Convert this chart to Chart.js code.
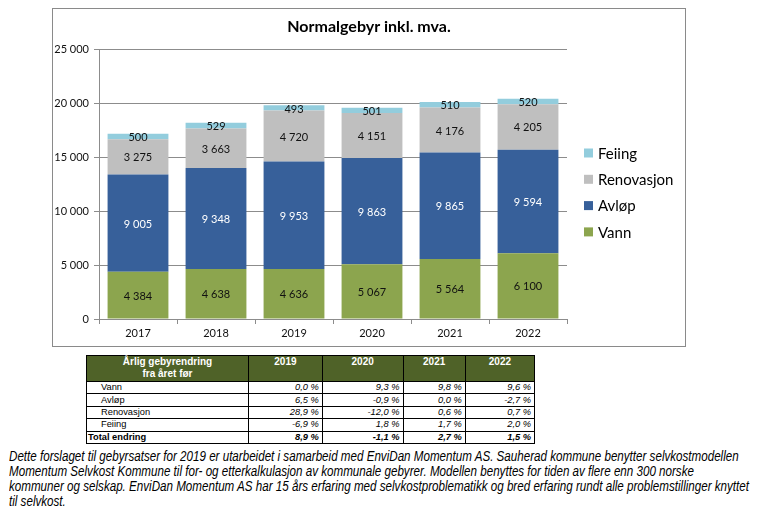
<!DOCTYPE html>
<html lang="no">
<head>
<meta charset="UTF-8">
<title>Normalgebyr inkl. mva.</title>
<script src="https://cdn.jsdelivr.net/npm/chart.js"></script>
<style>
  html, body { margin: 0; padding: 0; background: #fff; }
  body { width: 764px; height: 525px; position: relative; overflow: hidden; }
  #frame {
    position: absolute; left: 52px; top: 8px; width: 634px; height: 339px;
    border: 1px solid #8a8a8a; box-sizing: border-box;
  }
  #frame canvas { display: block; }
  #changes {
    position: absolute; left: 86px; top: 355px; width: 449px;
    border-collapse: collapse; font-family: "Liberation Sans", Arial, sans-serif;
    font-size: 9.3px; color: #000;
  }
  #changes th, #changes td { border: 1px solid #000; padding: 0; }
  #changes th {
    background: #4f6228; color: #fff; font-size: 10px; font-weight: bold;
    text-align: center; vertical-align: top; height: 25px; line-height: 12px;
  }
  #changes td { height: 11.4px; line-height: 11px; }
  #changes td.lbl { padding-left: 14px; width: 147px; }
  #changes td.val { text-align: right; font-style: italic; padding-right: 3px; }
  #changes tr.total td { font-weight: bold; }
  #changes tr.total td.lbl { padding-left: 1px; }
  #note {
    position: absolute; left: 9px; top: 449px; margin: 0;
    display: inline-block; transform-origin: 0 0;
    font-family: "Liberation Sans", Arial, sans-serif;
    font-style: italic; font-size: 14px; line-height: 15px; color: #000;
    white-space: nowrap;
  }
  #note span { display: block; }
</style>
</head>
<body>
<div id="frame"><canvas id="gebyr" width="632" height="337"></canvas></div>
<table id="changes"></table>
<div id="note"><span>Dette forslaget til gebyrsatser for 2019 er utarbeidet i samarbeid med EnviDan Momentum AS. Sauherad kommune benytter selvkostmodellen</span><span>Momentum Selvkost Kommune til for- og etterkalkulasjon av kommunale gebyrer. Modellen benyttes for tiden av flere enn 300 norske</span><span>kommuner og selskap. EnviDan Momentum AS har 15 års erfaring med selvkostproblematikk og bred erfaring rundt alle problemstillinger knyttet</span><span>til selvkost.</span></div>
<script>
// chart data (kr per year)
const years = ['2017', '2018', '2019', '2020', '2021', '2022'];
const vann = [4384, 4638, 4636, 5067, 5564, 6100];
const avlop = [9005, 9348, 9953, 9863, 9865, 9594];
const renovasjon = [3275, 3663, 4720, 4151, 4176, 4205];
const feiing = [500, 529, 493, 501, 510, 520];

// table data
const tableYears = ['2019', '2020', '2021', '2022'];
const tableRows = ['Vann', 'Avløp', 'Renovasjon', 'Feiing'];
const changeVann = ['0,0 %', '9,3 %', '9,8 %', '9,6 %'];
const changeAvlop = ['6,5 %', '-0,9 %', '0,0 %', '-2,7 %'];
const changeRenovasjon = ['28,9 %', '-12,0 %', '0,6 %', '0,7 %'];
const changeFeiing = ['-6,9 %', '1,8 %', '1,7 %', '2,0 %'];
const changeTotal = ['8,9 %', '-1,1 %', '2,7 %', '1,5 %'];

function fmt(v) {
    return String(v).replace(/\B(?=(\d{3})+(?!\d))/g, ' ');
}

// build the table
const table = document.getElementById('changes');
let html = '<tr><th>Årlig gebyrendring<br>fra året før</th>';
tableYears.forEach(y => { html += '<th>' + y + '</th>'; });
html += '</tr>';
[changeVann, changeAvlop, changeRenovasjon, changeFeiing].forEach((row, i) => {
    html += '<tr><td class="lbl">' + tableRows[i] + '</td>';
    row.forEach(v => { html += '<td class="val">' + v + '</td>'; });
    html += '</tr>';
});
html += '<tr class="total"><td class="lbl">Total endring</td>';
changeTotal.forEach(v => { html += '<td class="val">' + v + '</td>'; });
html += '</tr>';
table.innerHTML = html;

// narrow the note text (no Arial Narrow here) so the longest line fits
function squeezeNote() {
    const note = document.getElementById('note');
    note.style.transform = 'none';
    const w = note.offsetWidth;
    if (w > 0) note.style.transform = 'scaleX(' + (740 / w) + ')';
}
squeezeNote();
if (document.fonts) document.fonts.ready.then(squeezeNote);

// values inside the bar segments
const segmentLabels = {
    id: 'segmentLabels',
    afterDatasetsDraw(chart) {
        const ctx = chart.ctx;
        ctx.save();
        ctx.font = '11px Lato';
        ctx.textAlign = 'center';
        ctx.textBaseline = 'middle';
        chart.data.datasets.forEach((ds, i) => {
            const meta = chart.getDatasetMeta(i);
            ctx.fillStyle = ds.labelColor;
            meta.data.forEach((bar, j) => {
                const p = bar.getCenterPoint();
                ctx.fillText(fmt(ds.data[j]), p.x, p.y + 1);
            });
        });
        ctx.restore();
    }
};

// legend on the right, top item = top segment
const sideLegend = {
    id: 'sideLegend',
    afterDraw(chart) {
        const ctx = chart.ctx;
        const x = chart.chartArea.right + 17;
        ctx.save();
        ctx.font = '15px Lato';
        ctx.textBaseline = 'middle';
        ctx.textAlign = 'left';
        const list = chart.data.datasets.slice().reverse();
        list.forEach((ds, i) => {
            const y = 144 + i * 26.3;
            ctx.fillStyle = ds.backgroundColor;
            ctx.fillRect(x, y - 4.5, 9, 9);
            ctx.fillStyle = '#000';
            ctx.fillText(ds.label, x + 14, y + 1);
        });
        ctx.restore();
    }
};

const axisColor = '#8c8c8c';

new Chart(document.getElementById('gebyr'), {
    type: 'bar',
    data: {
        labels: years,
        datasets: [
            { label: 'Vann', data: vann, backgroundColor: '#8ca54e', labelColor: '#111' },
            { label: 'Avløp', data: avlop, backgroundColor: '#37609a', labelColor: '#fff' },
            { label: 'Renovasjon', data: renovasjon, backgroundColor: '#bfbfbf', labelColor: '#111' },
            { label: 'Feiing', data: feiing, backgroundColor: '#93cddd', labelColor: '#111' }
        ]
    },
    options: {
        responsive: false,
        animation: false,
        events: [],
        categoryPercentage: 1,
        barPercentage: 0.78,
        layout: { padding: 0 },
        scales: {
            x: {
                stacked: true,
                grid: { drawOnChartArea: false, drawTicks: true, tickLength: 5, color: axisColor },
                border: { color: axisColor },
                ticks: { color: '#111', font: { family: 'Lato', size: 11 }, padding: 3, maxRotation: 0 },
                afterFit(scale) { scale.height = 27; }
            },
            y: {
                stacked: true,
                min: 0,
                max: 25000,
                grid: { color: axisColor, tickLength: 5 },
                border: { color: axisColor },
                ticks: {
                    stepSize: 5000,
                    color: '#111',
                    font: { family: 'Lato', size: 11 },
                    padding: 5,
                    callback: v => fmt(v)
                },
                afterFit(scale) { scale.width = 46; }
            },
            // empty strip on the right that holds the legend
            legendSpace: {
                type: 'linear',
                position: 'right',
                grid: { display: false },
                border: { display: false },
                ticks: { display: false },
                afterFit(scale) { scale.width = 118; }
            }
        },
        plugins: {
            legend: { display: false },
            tooltip: { enabled: false },
            title: {
                display: true,
                text: 'Normalgebyr inkl. mva.',
                color: '#000',
                font: { family: 'Lato', size: 16, weight: 'bold' },
                padding: { top: 8, bottom: 13 }
            }
        }
    },
    plugins: [segmentLabels, sideLegend]
});
</script>
</body>
</html>
